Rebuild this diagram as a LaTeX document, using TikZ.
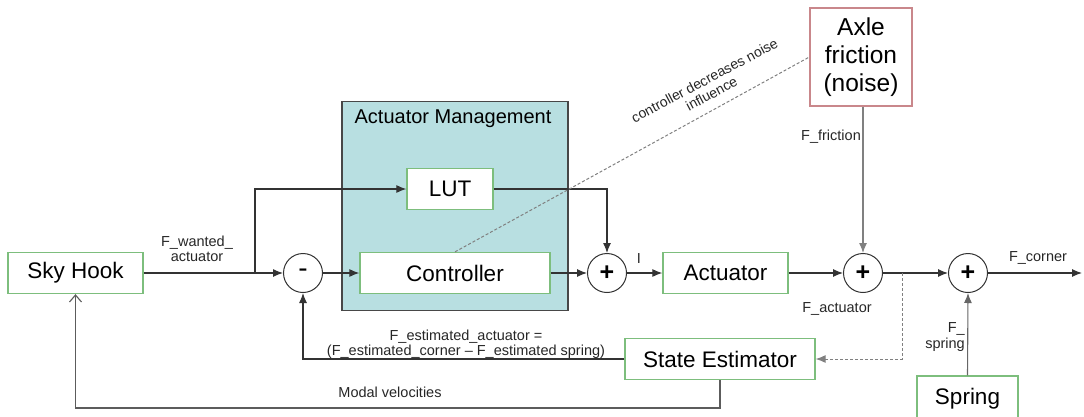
\documentclass[tikz,border=0pt]{standalone}
\usepackage{fontspec}
\setmainfont{Liberation Sans}
\usetikzlibrary{arrows.meta}
\definecolor{boxgreen}{HTML}{7DBE7D}
\definecolor{amfill}{HTML}{B8DFE1}
\definecolor{axlered}{HTML}{C9878B}
\definecolor{linec}{HTML}{333333}
\begin{document}
\begin{tikzpicture}[x=1pt,y=-1pt,
  blk/.style={draw=boxgreen, line width=1.3pt, fill=white, minimum height=41pt, inner sep=0pt, font=\fontsize{22.5}{26}\selectfont},
  sumc/.style={circle, draw=linec, line width=1pt, fill=white, minimum size=39pt, inner sep=0pt, font=\fontsize{25}{25}\selectfont\bfseries},
  lbl/.style={font=\fontsize{14.5}{15.5}\selectfont, text=black!85, inner sep=0pt, align=center},
  conn/.style={draw=linec, line width=1.1pt, -{Latex[length=10pt,width=8pt]}},
  barb/.style={draw=linec!80, line width=1.1pt, -{Straight Barb[length=7pt,width=12pt]}},
  dsh/.style={draw=gray, line width=1pt, densely dashed}
]
\useasboundingbox (0,0) rectangle (1084,416);

% Actuator management background
\node[draw=linec!90, line width=1.2pt, fill=amfill, minimum width=226pt, minimum height=209pt, inner sep=0pt] (am) at (455,206) {};
\node[font=\fontsize{20}{22}\selectfont, inner sep=0pt] (amlbl) at (453,119) {Actuator Management};

% blocks
\node[blk, minimum width=135pt] (sky) at (75.5,273) {Sky Hook};
\node[sumc, font=\fontsize{28}{28}\selectfont] (minus) at (303,273) {-};
\node[blk, minimum width=86pt] (lut) at (450,189) {LUT};
\node[blk, minimum width=190pt] (ctrl) at (455,273) {Controller};
\node[sumc] (p1) at (607,273) {+};
\node[blk, minimum width=125pt] (act) at (725.5,273) {Actuator};
\node[sumc] (p2) at (863,273) {+};
\node[sumc] (p3) at (968,273) {+};
\node[draw=axlered, line width=1.3pt, fill=white, minimum width=102pt, minimum height=98pt, inner sep=0pt, align=center, font=\fontsize{24.5}{28}\selectfont] (axle) at (861,57) {Axle\\friction\\(noise)};
\node[blk, minimum width=190pt] (se) at (720,359) {State Estimator};
\node[blk, minimum width=101pt, minimum height=46pt] (spring) at (967.5,399) {Spring};

% coordinates
\coordinate (br1) at (255,273);
\coordinate (tap) at (902,273);
\coordinate (out) at (1082,273);
\coordinate (mv) at (720,408);

% connectors
\draw[conn] (sky.east) -- (minus.west);
\draw[conn] (br1) |- (lut.west);
\draw[conn] (minus.east) -- (ctrl.west);
\draw[conn] (ctrl.east) -- (p1.west);
\draw[conn] (lut.east) -| (p1.north);
\draw[conn] (p1.east) -- (act.west);
\draw[conn] (act.east) -- (p2.west);
\draw[conn, draw=gray] (p2.north |- axle.south) -- (p2.north);
\draw[conn] (p2.east) -- (p3.west);
\draw[dsh, -{Latex[length=10pt,width=8pt]}] (tap) |- (se.east);
\draw[conn, draw=gray!80!black] (spring.north) -- (p3.south);
\draw[conn] (p3.east) -- (out);
\draw[conn] (se.west) -| (minus.south);
\draw[barb] (se.south) -- (mv) -| (sky.south);
\draw[dsh] (ctrl.north) -- (axle.west);

% labels
\node[lbl] (lw) at (197,249) {F\_wanted\_\\actuator};
\node[lbl] (li) at (639,259) {I};
\node[lbl] (lf) at (831,137) {F\_friction};
\node[lbl] (la) at (837,309) {F\_actuator};
\node[lbl] (lc) at (1038,258) {F\_corner};
\node[lbl, align=right, anchor=east] (ls) at (965,337) {F\_\\spring};
\node[lbl] (le) at (466,344) {F\_estimated\_actuator =\\(F\_estimated\_corner -- F\_estimated spring)};
\node[lbl] (lm) at (390,392) {Modal velocities};
\node[lbl, rotate=28, font=\fontsize{14}{15}\selectfont] (ln) at (708,87) {controller decreases noise\\influence};
\end{tikzpicture}
\end{document}
